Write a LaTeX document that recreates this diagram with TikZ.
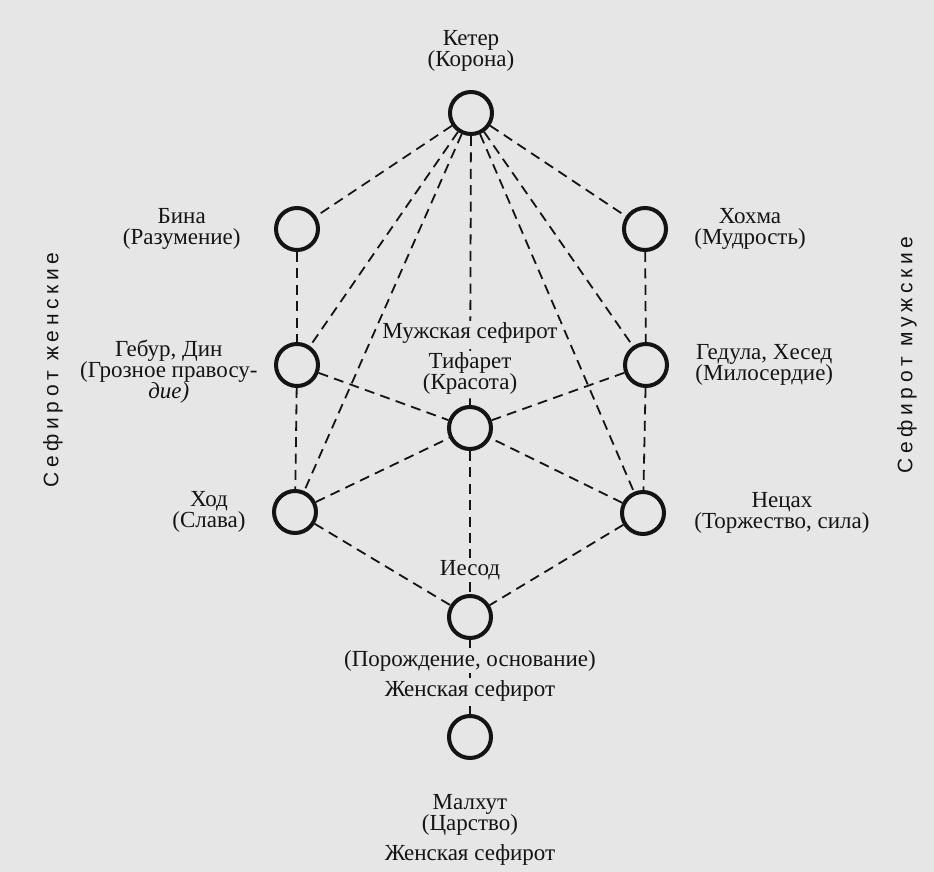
\documentclass[tikz,border=0pt]{standalone}
\usepackage{fontspec}
\setmainfont{Liberation Serif}
\newfontfamily\sidefont[LetterSpace=22]{Liberation Sans}
\usetikzlibrary{positioning}
\definecolor{paper}{RGB}{230,230,230}
\definecolor{ink}{RGB}{20,20,20}

\begin{document}
\begin{tikzpicture}[x=0.5pt, y=-0.5pt,
  sefira/.style={draw=ink, circle, line width=2pt, minimum size=21pt, inner sep=0pt},
  lbl/.style={align=center, inner sep=1pt, text=ink, font=\fontsize{11.5}{10.6}\selectfont},
  mid/.style={lbl, fill=paper},
  link/.style={draw=ink, line width=0.9pt, dash pattern=on 5pt off 3.2pt},
  side/.style={text=ink, rotate=90, font=\sidefont\fontsize{10.5}{12}\selectfont}]
\fill[paper] (0,0) rectangle (934,872);
\useasboundingbox (0,0) rectangle (934,872);
\node[sefira] (keter) at (471,113) {};
\node[sefira] (bina) at (297,229) {};
\node[sefira] (hokhma) at (645,229) {};
\node[sefira] (gebura) at (297,365) {};
\node[sefira] (gedula) at (646,365) {};
\node[sefira] (tiferet) at (470,428) {};
\node[sefira] (hod) at (295,512) {};
\node[sefira] (netzah) at (643,513) {};
\node[sefira] (yesod) at (470,617) {};
\node[sefira] (malkhut) at (470,737) {};
\foreach \a/\b in {keter/bina, keter/hokhma, keter/gebura, keter/gedula, keter/tiferet, keter/hod, keter/netzah,
  bina/gebura, gebura/hod, hokhma/gedula, gedula/netzah, gebura/tiferet, gedula/tiferet, hod/tiferet, netzah/tiferet,
  tiferet/yesod, hod/yesod, netzah/yesod, yesod/malkhut}
  \draw[link] (\a) -- (\b);
\node[lbl, above=8pt of keter] (keterT) {Кетер\\(Корона)};
\node[lbl, left=15.5pt of bina] (binaT) {Бина\\(Разумение)};
\node[lbl, right=12pt of hokhma] (hokhmaT) {Хохма\\(Мудрость)};
\node[lbl, left=7pt of gebura, yshift=-3.5pt] (geburaT) {Гебур, Дин\\(Грозное правосу-\\\textit{дие)}};
\node[lbl, right=12pt of gedula] (gedulaT) {Гедула, Хесед\\(Милосердие)};
\node[mid, above=4pt of tiferet] (tiferetT) {Тифарет\\(Красота)};
\node[mid, above=2pt of tiferetT] (maleT) {Мужская сефирот};
\node[lbl, left=12pt of hod] (hodT) {Ход\\(Слава)};
\node[lbl, right=13pt of netzah] (netzahT) {Нецах\\(Торжество, сила)};
\node[mid, above=6pt of yesod] (yesodT) {Иесод};
\node[mid, below=4pt of yesod] (yesodS) {(Порождение, основание)};
\node[mid, below=2pt of yesodS] (femaleA) {Женская сефирот};
\node[lbl, below=16pt of malkhut] (malkhutT) {Малхут\\(Царство)};
\node[lbl, below=2pt of malkhutT] (femaleB) {Женская сефирот};
\node[side] (femaleSide) at (53,370) {Сефирот женские};
\node[side] (maleSide) at (907,355) {Сефирот мужские};
\end{tikzpicture}
\end{document}
